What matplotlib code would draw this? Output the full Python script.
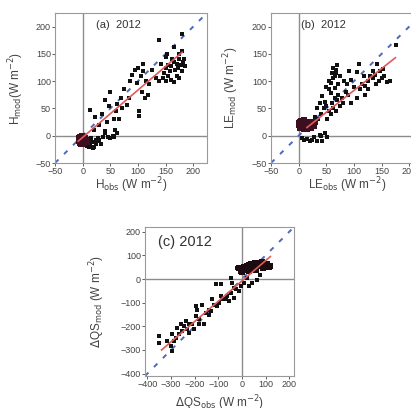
import matplotlib.pyplot as plt
import numpy as np

plt.rcParams['font.family'] = ['Liberation Sans', 'DejaVu Sans']

# ---- panel (a) H ----
# dense cluster near the origin
ha_obs0 = [-6, -5, -4, -3, -2, -1, 0, 1, 2, 3, -5, -3, -1, 1, 3, 5, -4, -2, 0, 2, 4, 6, -3, 0, 3, -6, -2, 2, 5, 7]
ha_mod0 = [-4, -8, -12, -6, -10, -3, -7, -12, -5, -9, -14, -15, -13, -16, -14, -11, -2, -1, -4, -2, -6, -8, -10, -11, -13, -9, -6, -8, -4, -12]
ha_obs = [10, 14, 17, 20, 24, 28, 30, 33, 36, 40, 45, 50, 55, 58, 62, 12, 18, 25, 8, 15,
          14, 23, 41, 50, 44, 56, 62, 71, 41, 29, 56, 80, 83, 90, 95, 98, 107, 113, 110, 110,
          132, 138, 141, 150, 138, 165, 175, 180, 35, 60, 75, 85, 100, 105, 115, 120, 125, 118,
          70, 65, 48, 30, 20, 102, 102,
          145, 150, 155, 160, 165, 170, 175, 180, 150, 155, 160, 165, 170, 175, 178, 182, 185,
          168, 158, 148, 172, 162, 180, 184, 152]
ha_mod = [-15, -18, -12, -20, -8, -5, -10, -15, -3, 5, -2, -5, 0, 10, 5, -20, -22, -16, -18, -5,
          47, 34, 65, 81, 25, 31, 59, 50, 9, -7, -3, 56, 69, 112, 120, 97, 81, 69, 118, 131,
          106, 100, 131, 145, 175, 162, 150, 187, 40, 45, 85, 100, 125, 110, 100, 95, 120, 75,
          70, 30, 55, 20, 10, 46, 36,
          105, 100, 110, 103, 98, 110, 105, 118, 125, 130, 128, 135, 132, 140, 130, 135, 128,
          120, 118, 115, 125, 140, 155, 140, 150]
fit_a_x = [-8, 180]
fit_a_y = [-10, 153]

# ---- panel (b) LE ----
le_obs0 = [0, 2, 4, 6, 8, 10, 12, 14, 16, 18, 20, 22, 3, 7, 11, 15, 19, 23, 27, 5, 9, 13, 17, 21, 25, 1, 28, 30]
le_mod0 = [20, 25, 18, 22, 15, 28, 20, 24, 17, 21, 26, 19, 14, 16, 23, 13, 18, 15, 22, 27, 12, 26, 14, 20, 17, 23, 18, 25]
le_obs = [6, 10, 15, 20, 24, 28, 33, 43, 38, 47, 40, 52,
          30, 35, 40, 45, 50, 55, 60, 65, 70, 75, 38, 43, 48, 58, 62, 52, 68, 33, 72, 80, 85, 78, 90,
          50, 55, 59, 62, 66, 67, 68, 69, 60, 63, 55, 72, 75, 66, 58,
          92, 95, 106, 109, 111, 120, 126, 134, 142, 153, 140, 145, 150, 155, 160, 165, 130, 125,
          135, 176, 100, 115, 105, 95, 88, 82, 118, 138, 147, 120]
le_mod = [-5, -8, -6, -10, -7, -3, -9, -9, 2, 5, -1, -3,
          35, 30, 40, 50, 55, 45, 60, 70, 65, 55, 60, 73, 62, 40, 50, 30, 45, 50, 75, 60, 80, 70, 75,
          90, 100, 97, 106, 109, 115, 121, 130, 115, 125, 85, 95, 110, 88, 78,
          119, 103, 116, 131, 85, 91, 85, 119, 131, 122, 95, 100, 105, 109, 98, 100, 110, 100,
          105, 166, 90, 95, 70, 60, 95, 100, 110, 112, 118, 75]
fit_b_x = [15, 175]
fit_b_y = [15, 143]

# ---- panel (c) dQS ----
qs_obs0 = [10, 20, 30, 40, 50, 60, 70, 80, 90, 100, 110, 120, 15, 25, 35, 45, 55, 65, 75, 85,
           95, 105, 115, 5, -5, -12, 0, 30, 60, 90]
qs_mod0 = [50, 55, 60, 65, 58, 62, 55, 60, 52, 58, 55, 57, 45, 42, 48, 52, 68, 66, 63, 70,
           60, 62, 50, 40, 35, 47, 30, 35, 40, 45]
qs_obs = [-20, 78, 64, 43, 29, -48, -41, -34, -13, -69, -55, -34, -111, -90, -90, -125, -118,
          -168, -140, -196, -189, -140, -196, -161, -238, -224, -273, -252, -294, -280, -351,
          -351, -316, -301, -294, -224,
          -210, -182, -154, -132, -104, -97, -83, -62, -48, -27, -6, 8, 22, -266, -287, -259,
          -245, -203, -231, -182]
qs_mod = [47, 19, -2, -16, -30, 5, -16, -37, -51, -86, -93, -79, -23, -23, -72, -86, -108,
          -108, -129, -115, -129, -150, -157, -192, -178, -192, -206, -220, -234, -248, -241,
          -269, -262, -283, -305, -227,
          -192, -171, -143, -136, -115, -101, -86, -72, -58, -44, -30, -16, 5, -234, -262, -192,
          -199, -213, -213, -192]
fit_c_x = [-340, 120]
fit_c_y = [-300, 95]

W, H = 411, 408
fig = plt.figure(figsize=(W / 100, H / 100), dpi=100)

def panel(rect, x0, y0, x, y, fx, fy, lim, ticks, tag, tagpos, tagsize, xl, yl, ylx, xly,
          ccol='#3d0f1e'):
    ax = fig.add_axes(rect)
    ax.axhline(0, color='#8c8c8c', lw=1.0, zorder=1)
    ax.axvline(0, color='#8c8c8c', lw=1.0, zorder=1)
    ax.plot(lim, lim, color='#4f68b8', lw=1.4, ls=(0, (2.5, 4)), zorder=2)
    ax.scatter(x, y, s=12, c='#111111', marker='s', lw=0, zorder=3)
    ax.scatter(x0, y0, s=13, c=ccol, marker='s', lw=0, zorder=3)
    ax.plot(fx, fy, color='#e05a5a', lw=1.2, zorder=4)
    ax.set_xlim(lim)
    ax.set_ylim(lim)
    ax.set_xticks(ticks)
    ax.set_yticks(ticks)
    ax.tick_params(labelsize=6.5, colors='#444444', length=2, width=0.6, pad=1)
    for s in ax.spines.values():
        s.set_color('#9a9a9a')
        s.set_linewidth(0.8)
    ax.text(tagpos[0], tagpos[1], tag, transform=ax.transAxes, fontsize=tagsize,
            color='#333333', va='center')
    ax.set_xlabel(xl, fontsize=8.5, color='#444444')
    ax.set_ylabel(yl, fontsize=8.5, color='#444444')
    ax.yaxis.set_label_coords(ylx, 0.5)
    ax.xaxis.set_label_coords(0.5, xly)
    return ax

panel([55 / W, 1 - 163 / H, 152 / W, 150 / H], ha_obs0, ha_mod0, ha_obs, ha_mod,
      fit_a_x, fit_a_y, [-50, 225], [-50, 0, 50, 100, 150, 200],
      '(a)  2012', (0.27, 0.92), 8,
      r'H$_{\rm obs}$ (W m$^{-2}$)', r'H$_{\rm mod}$(W m$^{-2}$)', -0.19, -0.085)

panel([271 / W, 1 - 163 / H, 152 / W, 150 / H], le_obs0, le_mod0, le_obs, le_mod,
      fit_b_x, fit_b_y, [-50, 225], [-50, 0, 50, 100, 150, 200],
      '(b)  2012', (0.2, 0.92), 8,
      r'LE$_{\rm obs}$ (W m$^{-2}$)', r'LE$_{\rm mod}$ (W m$^{-2}$)', -0.2, -0.085)

panel([145 / W, 1 - 376 / H, 149 / W, 149 / H], qs_obs0, qs_mod0, qs_obs, qs_mod,
      fit_c_x, fit_c_y, [-410, 220], [-400, -300, -200, -100, 0, 100, 200],
      '(c) 2012', (0.09, 0.9), 10.5,
      r'$\Delta$QS$_{\rm obs}$ (W m$^{-2}$)', r'$\Delta$QS$_{\rm mod}$ (W m$^{-2}$)', -0.255, -0.12,
      ccol='#1c0c10')

fig.savefig('out.png', dpi=100)
